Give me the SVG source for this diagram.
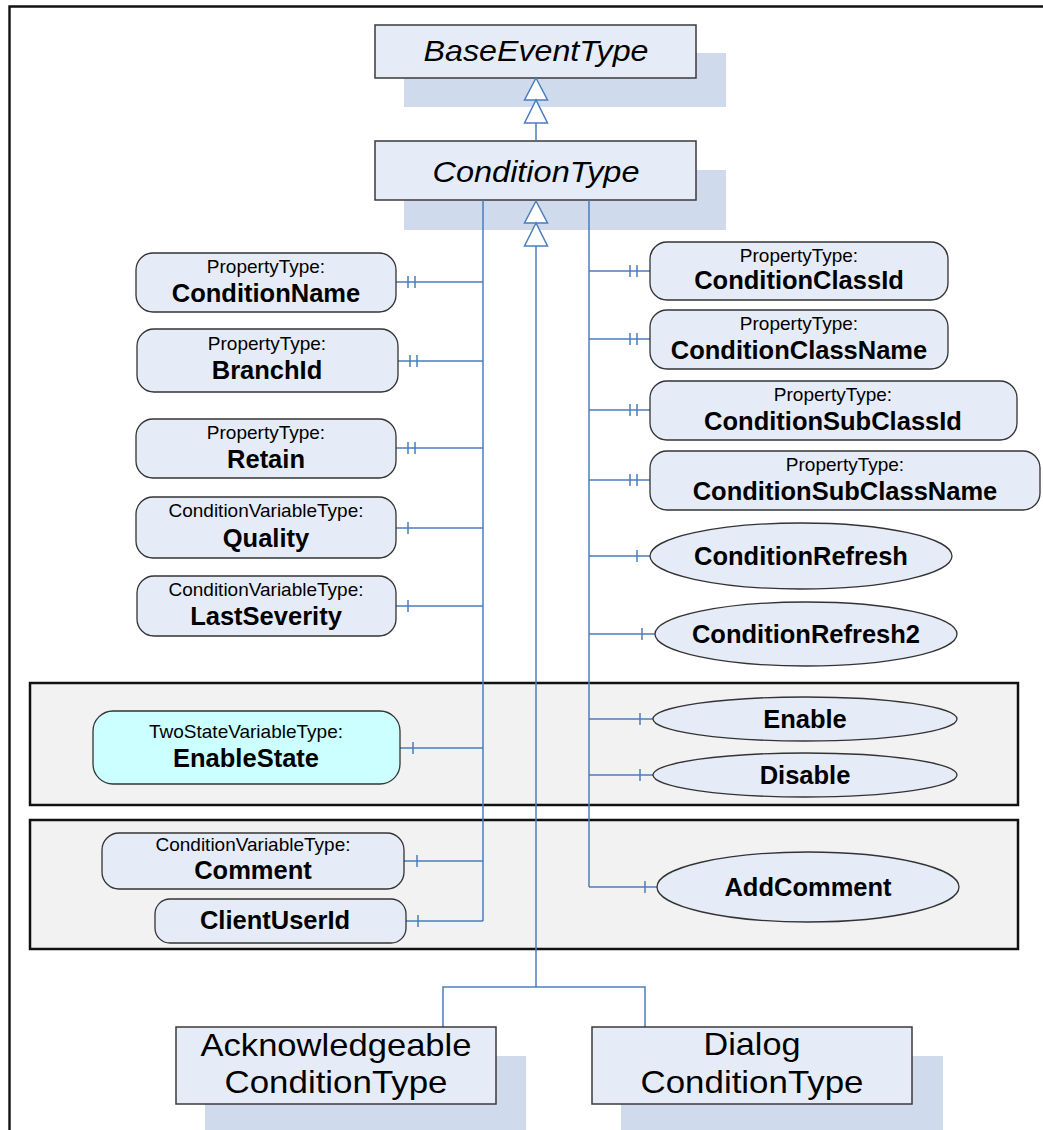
<svg xmlns="http://www.w3.org/2000/svg" width="1043" height="1130" viewBox="0 0 1043 1130">
<style>
.bg{fill:#fff}
.frame{fill:none;stroke:#111;stroke-width:2.4}
.grp{fill:#f2f2f2;stroke:#111;stroke-width:2.5}
.shadow{fill:#cfdbed}
.box{fill:#e6ecf7;stroke:#3a3a3a;stroke-width:1.5}
.node{fill:#e6ecf7;stroke:#333;stroke-width:1.3}
.cyan{fill:#ccffff;stroke:#333;stroke-width:1.3}
.conn{fill:none;stroke:#4a7ebb;stroke-width:1.5}
.tri{fill:#fff;stroke:#4a7ebb;stroke-width:1.5}
text{font-family:"Liberation Sans",Arial,sans-serif;fill:#000;text-anchor:middle}
.s{font-size:19px}
.b{font-size:25.5px;font-weight:bold}
.it{font-size:30px;font-style:italic}
.big{font-size:32px}
</style>
<rect class="bg" x="0" y="0" width="1043" height="1130"/>
<path class="frame" d="M9.5,1130 V6.5 H1043"/>

<g id="groups">
<rect class="grp" x="30" y="683" width="988" height="122"/>
<rect class="grp" x="30" y="820" width="988" height="129"/>
</g>

<g id="BaseEventType">
<rect class="shadow" x="404" y="53" width="322" height="54"/>
<rect class="box" x="375" y="25" width="321" height="53"/>
<text class="it" x="536" y="61" textLength="225" lengthAdjust="spacingAndGlyphs">BaseEventType</text>
</g>

<g id="ConditionType">
<rect class="shadow" x="404" y="170" width="322" height="60"/>
<rect class="box" x="375" y="141" width="321" height="59"/>
<text class="it" x="536" y="182" textLength="207" lengthAdjust="spacingAndGlyphs">ConditionType</text>
</g>

<g id="connectors">
<path class="conn" d="M536,123 V141"/>
<path class="tri" d="M536,78 L524.5,100 H547.5 Z"/>
<path class="tri" d="M536,100 L524.5,123 H547.5 Z"/>
<path class="conn" d="M483,200 V921"/>
<path class="conn" d="M589,200 V887"/>
<path class="conn" d="M536,246 V987 M443,1027 V987 H645 V1027"/>
<path class="tri" d="M536,201 L524.5,223 H547.5 Z"/>
<path class="tri" d="M536,223 L524.5,246 H547.5 Z"/>
<!-- left links -->
<path class="conn" d="M396,282 H483 M408,276 V288 M415,276 V288"/>
<path class="conn" d="M398,361 H483 M410,355 V367 M417,355 V367"/>
<path class="conn" d="M396,448 H483 M408,442 V454 M415,442 V454"/>
<path class="conn" d="M396,528 H483 M408,522 V534"/>
<path class="conn" d="M396,606 H483 M408,600 V612"/>
<path class="conn" d="M400,748 H483 M413,742 V754"/>
<path class="conn" d="M404,861 H483 M417,855 V867"/>
<path class="conn" d="M406,921 H483 M418,915 V927"/>
<!-- right links -->
<path class="conn" d="M589,271 H650 M630,265 V277 M637,265 V277"/>
<path class="conn" d="M589,339 H650 M630,333 V345 M637,333 V345"/>
<path class="conn" d="M589,410 H650 M630,404 V416 M637,404 V416"/>
<path class="conn" d="M589,480 H650 M630,474 V486 M637,474 V486"/>
<path class="conn" d="M589,556 H650 M637,550 V562"/>
<path class="conn" d="M589,634 H655 M642,628 V640"/>
<path class="conn" d="M589,719 H653 M640,713 V725"/>
<path class="conn" d="M589,775 H653 M640,769 V781"/>
<path class="conn" d="M589,887 H657 M645,881 V893"/>
</g>

<g id="ConditionName">
<rect class="node" x="136" y="253" width="260" height="59" rx="17"/>
<text class="s" x="266" y="273">PropertyType:</text>
<text class="b" x="266" y="302">ConditionName</text>
</g>
<g id="BranchId">
<rect class="node" x="137" y="329" width="261" height="63" rx="17"/>
<text class="s" x="267" y="350">PropertyType:</text>
<text class="b" x="267" y="379">BranchId</text>
</g>
<g id="Retain">
<rect class="node" x="136" y="419" width="260" height="59" rx="17"/>
<text class="s" x="266" y="439">PropertyType:</text>
<text class="b" x="266" y="468">Retain</text>
</g>
<g id="Quality">
<rect class="node" x="136" y="497" width="260" height="61" rx="17"/>
<text class="s" x="266" y="517">ConditionVariableType:</text>
<text class="b" x="266" y="547">Quality</text>
</g>
<g id="LastSeverity">
<rect class="node" x="137" y="576" width="259" height="60" rx="17"/>
<text class="s" x="266" y="596">ConditionVariableType:</text>
<text class="b" x="266" y="625">LastSeverity</text>
</g>
<g id="EnableState">
<rect class="cyan" x="93" y="711" width="307" height="73" rx="20"/>
<text class="s" x="246" y="738">TwoStateVariableType:</text>
<text class="b" x="246" y="767">EnableState</text>
</g>
<g id="Comment">
<rect class="node" x="102" y="833" width="302" height="56" rx="17"/>
<text class="s" x="253" y="851">ConditionVariableType:</text>
<text class="b" x="253" y="879">Comment</text>
</g>
<g id="ClientUserId">
<rect class="node" x="155" y="899" width="251" height="44" rx="15"/>
<text class="b" x="275" y="929">ClientUserId</text>
</g>

<g id="ConditionClassId">
<rect class="node" x="650" y="242" width="298" height="58" rx="17"/>
<text class="s" x="799" y="262">PropertyType:</text>
<text class="b" x="799" y="289">ConditionClassId</text>
</g>
<g id="ConditionClassName">
<rect class="node" x="650" y="310" width="298" height="59" rx="17"/>
<text class="s" x="799" y="330">PropertyType:</text>
<text class="b" x="799" y="359">ConditionClassName</text>
</g>
<g id="ConditionSubClassId">
<rect class="node" x="650" y="381" width="367" height="59" rx="17"/>
<text class="s" x="833" y="401">PropertyType:</text>
<text class="b" x="833" y="430">ConditionSubClassId</text>
</g>
<g id="ConditionSubClassName">
<rect class="node" x="650" y="451" width="390" height="59" rx="17"/>
<text class="s" x="845" y="471">PropertyType:</text>
<text class="b" x="845" y="500">ConditionSubClassName</text>
</g>
<g id="ConditionRefresh">
<ellipse class="node" cx="801" cy="556" rx="151" ry="33"/>
<text class="b" x="801" y="565">ConditionRefresh</text>
</g>
<g id="ConditionRefresh2">
<ellipse class="node" cx="806" cy="634" rx="151" ry="32"/>
<text class="b" x="806" y="643">ConditionRefresh2</text>
</g>
<g id="Enable">
<ellipse class="node" cx="805" cy="719" rx="152" ry="22"/>
<text class="b" x="805" y="728">Enable</text>
</g>
<g id="Disable">
<ellipse class="node" cx="805" cy="775" rx="152" ry="22"/>
<text class="b" x="805" y="784">Disable</text>
</g>
<g id="AddComment">
<ellipse class="node" cx="808" cy="887" rx="151" ry="35"/>
<text class="b" x="808" y="896">AddComment</text>
</g>

<g id="AcknowledgeableConditionType">
<rect class="shadow" x="205" y="1056" width="321" height="80"/>
<rect class="box" x="176" y="1027" width="320" height="77"/>
<text class="big" x="336" y="1056" textLength="271" lengthAdjust="spacingAndGlyphs">Acknowledgeable</text>
<text class="big" x="336" y="1093" textLength="223" lengthAdjust="spacingAndGlyphs">ConditionType</text>
</g>
<g id="DialogConditionType">
<rect class="shadow" x="621" y="1056" width="322" height="80"/>
<rect class="box" x="592" y="1027" width="320" height="77"/>
<text class="big" x="752" y="1055" textLength="97" lengthAdjust="spacingAndGlyphs">Dialog</text>
<text class="big" x="752" y="1093" textLength="223" lengthAdjust="spacingAndGlyphs">ConditionType</text>
</g>
</svg>
